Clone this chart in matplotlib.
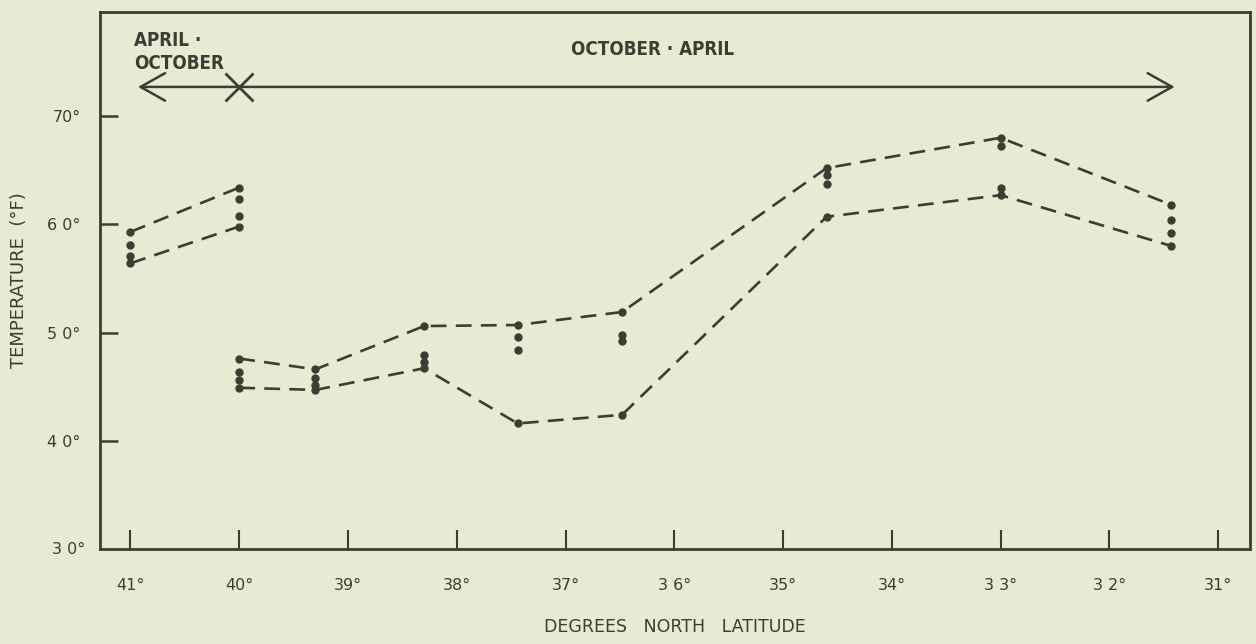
import matplotlib
matplotlib.use("Agg")
import matplotlib.pyplot as plt

# latitude (deg N) and temperature (deg F)
LAT_SUMMER = [41.0, 40.0]
UPPER_SUMMER = [59.3, 63.4]
LOWER_SUMMER = [56.4, 59.8]
MID_SUMMER = [[58.1, 57.1], [62.3, 60.8]]

LAT_WINTER = [40.0, 39.3, 38.3, 37.44, 36.48, 34.6, 33.0, 31.43]
UPPER_WINTER = [47.6, 46.6, 50.6, 50.7, 51.9, 65.2, 68.0, 61.8]
LOWER_WINTER = [44.9, 44.7, 46.7, 41.6, 42.4, 60.7, 62.7, 58.0]
MID_WINTER = [[46.4, 45.6], [45.8, 45.2], [47.9, 47.3], [49.6, 48.4],
              [49.8, 49.2], [64.6, 63.7], [67.2, 63.4], [60.4, 59.2]]

X_TICKS = [41, 40, 39, 38, 37, 36, 35, 34, 33, 32, 31]
X_LABELS = ["41°", "40°", "39°", "38°", "37°", "3 6°", "35°", "34°", "3 3°", "3 2°", "31°"]
Y_TICKS = [30, 40, 50, 60, 70]
Y_LABELS = ["3 0°", "4 0°", "5 0°", "6 0°", "70°"]

# period arrow: start, split, end latitude and height
PERIOD_START, PERIOD_SPLIT, PERIOD_END, PERIOD_Y = 40.93, 40.0, 31.40, 72.7

BG = "#e8ebd3"
INK = "#3d3d33"

fig = plt.figure(figsize=(12.56, 6.44), dpi=100, facecolor=BG)
ax = fig.add_axes([0.0796, 0.1475, 0.9154, 0.8335], facecolor=BG)

line_kw = dict(color=INK, lw=1.9, dashes=(6, 3.5), marker="o", ms=5,
               mfc=INK, mec=INK, zorder=3)
for lat, up, lo in [(LAT_SUMMER, UPPER_SUMMER, LOWER_SUMMER),
                    (LAT_WINTER, UPPER_WINTER, LOWER_WINTER)]:
    ax.plot(lat, up, **line_kw)
    ax.plot(lat, lo, **line_kw)

for lat, mids in [(LAT_SUMMER, MID_SUMMER), (LAT_WINTER, MID_WINTER)]:
    for x, m in zip(lat, mids):
        ax.plot([x] * len(m), m, "o", color=INK, ms=5, zorder=3)

# period arrows
arrow_kw = dict(arrowstyle="->,head_length=0.8,head_width=0.45", color=INK,
                lw=1.8, shrinkA=0, shrinkB=0, mutation_scale=22)
ax.annotate("", xy=(PERIOD_START, PERIOD_Y), xytext=(PERIOD_SPLIT, PERIOD_Y),
            arrowprops=arrow_kw)
ax.annotate("", xy=(PERIOD_END, PERIOD_Y), xytext=(PERIOD_SPLIT, PERIOD_Y),
            arrowprops=arrow_kw)
ax.plot([PERIOD_SPLIT], [PERIOD_Y], marker="x", ms=20, mew=2, color=INK)

stamp = dict(family="DejaVu Sans", fontstretch="condensed", weight="bold",
             fontsize=13.5, color=INK)
ax.text(40.97, 77.0, "APRIL ·", ha="left", va="center", **stamp)
ax.text(40.97, 74.9, "OCTOBER", ha="left", va="center", **stamp)
ax.text(36.2, 76.2, "OCTOBER · APRIL", ha="center", va="center", **stamp)

ax.set_xlim(41.28, 30.71)
ax.set_ylim(30, 79.6)
ax.set_xticks(X_TICKS)
ax.set_xticklabels(X_LABELS)
ax.set_yticks(Y_TICKS[1:])
ax.set_yticklabels(Y_LABELS[1:])
# bottom label sits at the axis corner
ax.text(-0.013, 0, Y_LABELS[0], transform=ax.transAxes, ha="right", va="center",
        fontsize=11.5, color=INK)

ax.tick_params(axis="x", direction="in", length=14, width=1.5, pad=21,
               labelsize=11.5, colors=INK)
ax.tick_params(axis="y", direction="in", length=13, width=1.8, pad=14,
               labelsize=11.5, colors=INK)
for s in ax.spines.values():
    s.set_color(INK)
    s.set_linewidth(2)

ax.set_xlabel("DEGREES   NORTH   LATITUDE", fontsize=12.5, color=INK, labelpad=18)
ax.set_ylabel("TEMPERATURE  (°F)", fontsize=13, color=INK, labelpad=14)

fig.savefig("out.png", dpi=100, facecolor=BG)
